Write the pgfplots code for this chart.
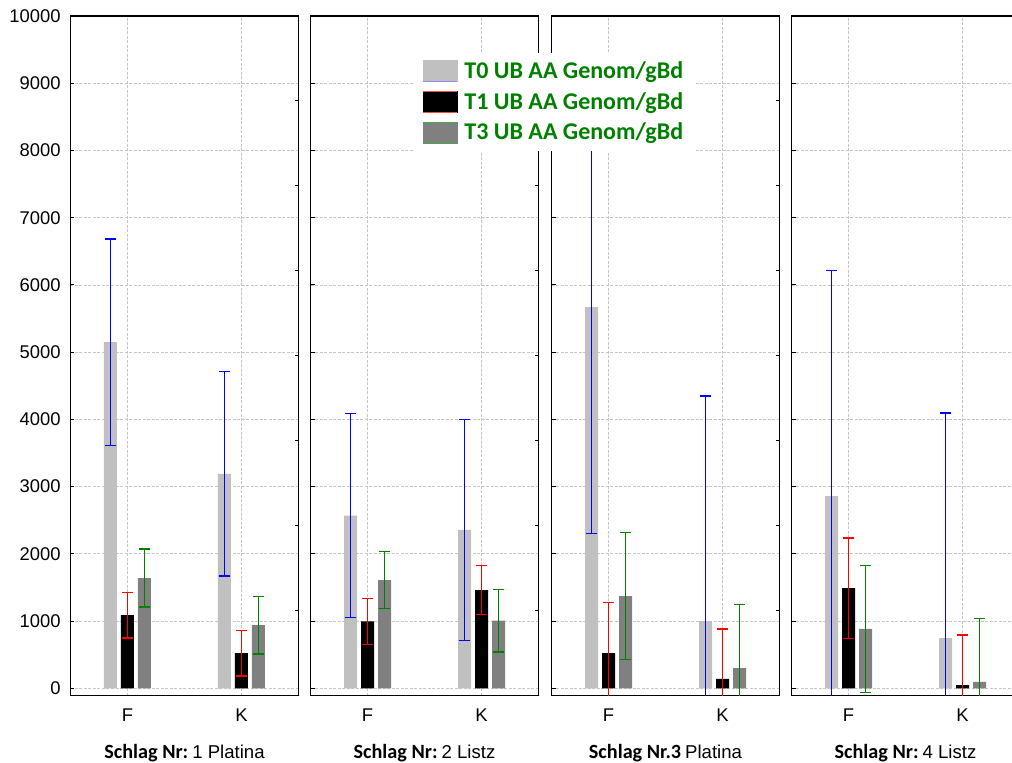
\documentclass[border=0pt]{standalone}
\usepackage{fontspec}
\setmainfont{Liberation Sans}
\newfontfamily\carlito{Carlito}
\usepackage{pgfplots}
\usepackage{pgfplotstable}
\pgfplotsset{compat=1.18}

\definecolor{tzero}{RGB}{192,192,192}
\definecolor{tthree}{RGB}{128,128,128}
\definecolor{darkgreen}{RGB}{0,128,0}

% bar heights, x: 0 = F, 1 = K
\pgfplotstableread{
x t0   t1   t3
0 5150 1090 1640
1 3190 525  940
}\panelA
\pgfplotstableread{
x t0   t1   t3
0 2570 995  1610
1 2355 1460 1005
}\panelB
\pgfplotstableread{
x t0   t1   t3
0 5670 525  1373
1 1000 140  302
}\panelC
\pgfplotstableread{
x t0   t1   t3
0 2860 1490 885
1 748  49   94
}\panelD

\pgfplotsset{
  panel/.style={
    scale only axis, width=114pt, height=339.85pt, anchor=south west,
    xmin=-0.5, xmax=1.5, ymin=-110, ymax=10000,
    xtick={0,1}, xticklabels={F,K},
    ytick={0,1000,...,10000},
    scaled y ticks=false,
    ytick pos=left, tick align=inside, major tick length=2pt,
    x tick style={draw=none},
    grid=major, grid style={dash pattern=on 1.5pt off 0.75pt, gray!45, line width=0.4pt},
    axis line style={line width=0.7pt},
    tick style={black, line width=0.5pt},
    /pgf/number format/assume math mode=true,
    /pgf/number format/fixed, /pgf/number format/1000 sep={},
    ticklabel style={font=\fontsize{9.2}{11}\selectfont},
    xticklabel style={anchor=base, yshift=-13pt},
    yticklabel style={xshift=-1.4pt},
    xlabel style={at={(axis description cs:0.5,0)}, anchor=base, yshift=-31.2pt,
      font=\fontsize{9.3}{11}\selectfont},
    unbounded coords=jump,
  },
  rightticks/.style={
    scale only axis, width=114pt, height=339.85pt, anchor=south west,
    axis x line=none, axis y line*=right,
    xmin=0, xmax=1, ymin=0, ymax=8, ytick={1,...,7}, yticklabels={},
    tick align=inside, major tick length=2pt,
    axis line style={draw=none}, tick style={black, line width=0.5pt},
  },
  bar/.style n args={2}{ybar, bar width=6.5pt, bar shift=#2, fill=#1, draw=none, forget plot},
  % error bar: vertical line between lower and upper end, caps as marks
  err/.style={color=#1, line width=0.65pt, mark=-, mark size=2.75pt,
    mark options={solid, line width=0.65pt}, clip marker paths=true, forget plot},
}

\newcommand{\bars}[1]{%
  \addplot[bar={tzero}{-8.5pt}] table[x=x, y=t0] {#1};
  \addplot[bar={black}{0pt}] table[x=x, y=t1] {#1};
  \addplot[bar={tthree}{8.5pt}] table[x=x, y=t3] {#1};
}

\newcommand{\schlag}[2]{{\carlito\bfseries\fontsize{10.1}{12}\selectfont #1}\hspace{2pt}#2}

\begin{document}
\begin{tikzpicture}
\path[use as bounding box] (0,0) rectangle (506pt,381pt);

\begin{axis}[panel, at={(35.25pt,33.15pt)}, xlabel={\schlag{Schlag Nr:}{1 Platina}}]
\bars{\panelA}
\addplot[err=blue] coordinates {(-0.1491,3615) (-0.1491,6685) (0,nan) (0.8509,1670) (0.8509,4710)};
\addplot[err=red] coordinates {(0,750) (0,1430) (0,nan) (1,185) (1,865)};
\addplot[err=darkgreen] coordinates {(0.1491,1210) (0.1491,2070) (0,nan) (1.1491,510) (1.1491,1370)};
\end{axis}
\begin{axis}[rightticks, at={(35.25pt,33.15pt)}]
\end{axis}

\begin{axis}[panel, at={(155.25pt,33.15pt)}, yticklabels={},
  xlabel={\schlag{Schlag Nr:}{2 Listz}}]
\bars{\panelB}
\addplot[err=blue] coordinates {(-0.1491,1052) (-0.1491,4088) (0,nan) (0.8509,715) (0.8509,3995)};
\addplot[err=red] coordinates {(0,655) (0,1335) (0,nan) (1,1095) (1,1825)};
\addplot[err=darkgreen] coordinates {(0.1491,1182) (0.1491,2038) (0,nan) (1.1491,542) (1.1491,1468)};
\end{axis}
\begin{axis}[rightticks, at={(155.25pt,33.15pt)}]
\end{axis}

\begin{axis}[panel, at={(275.75pt,33.15pt)}, yticklabels={},
  xlabel={\schlag{Schlag Nr.3}{Platina}}]
\bars{\panelC}
\addplot[err=blue] coordinates {(-0.1491,2305) (-0.1491,9035) (0,nan) (0.8509,-2350) (0.8509,4350)};
\addplot[err=red] coordinates {(0,-223) (0,1273) (0,nan) (1,-600) (1,880)};
\addplot[err=darkgreen] coordinates {(0.1491,431) (0.1491,2315) (0,nan) (1.1491,-640) (1.1491,1244)};
\end{axis}
\begin{axis}[rightticks, at={(275.75pt,33.15pt)}]
\end{axis}

\begin{axis}[panel, at={(395.75pt,33.15pt)}, yticklabels={},
  xlabel={\schlag{Schlag Nr:}{4 Listz}},
  legend style={at={(-1.66,0.9456)}, anchor=north west, draw=none, fill=white,
    inner xsep=4.5pt, inner ysep=3pt, row sep=3.5pt,
    font=\carlito\bfseries\fontsize{12}{14}\selectfont, text=darkgreen,
    nodes={inner sep=1pt}, cells={anchor=west},
    /tikz/every odd column/.append style={column sep=2.5pt}},
  legend cell align=left]
\bars{\panelD}
\addplot[err=blue] coordinates {(-0.1491,-497) (-0.1491,6217) (0,nan) (0.8509,-2599) (0.8509,4095)};
\addplot[err=red] coordinates {(0,745) (0,2235) (0,nan) (1,-695) (1,793)};
\addplot[err=darkgreen] coordinates {(0.1491,-60) (0.1491,1830) (0,nan) (1.1491,-847) (1.1491,1035)};
\addlegendimage{legend image code/.code={
  \fill[tzero] (0pt,-5.25pt) rectangle (17pt,5.25pt);
  \draw[blue!45, line width=0.5pt] (0pt,-5.25pt) -- (17pt,-5.25pt);}}
\addlegendentry{T0 UB AA Genom/gBd}
\addlegendimage{legend image code/.code={
  \fill[black] (0pt,-5.25pt) rectangle (17pt,5.25pt);
  \draw[red!70, line width=0.5pt] (0pt,-5.25pt) -- (17pt,-5.25pt) (0pt,5.25pt) -- (17pt,5.25pt);}}
\addlegendentry{T1 UB AA Genom/gBd}
\addlegendimage{legend image code/.code={
  \fill[tthree] (0pt,-5.25pt) rectangle (17pt,5.25pt);
  \draw[darkgreen!70, line width=0.5pt] (0pt,-5.25pt) -- (17pt,-5.25pt) (0pt,5.25pt) -- (17pt,5.25pt);}}
\addlegendentry{T3 UB AA Genom/gBd}
\end{axis}
\begin{axis}[rightticks, at={(395.75pt,33.15pt)}]
\end{axis}
\end{tikzpicture}
\end{document}
